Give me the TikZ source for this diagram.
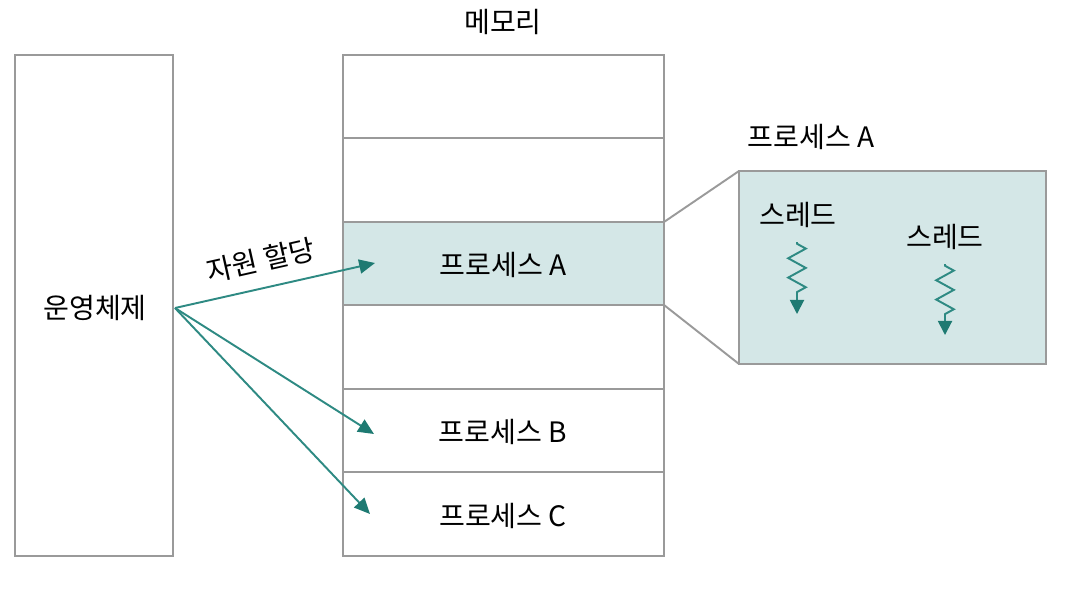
\documentclass[tikz,border=0pt]{standalone}
\usepackage{fontspec}
\setmainfont{Noto Sans CJK KR}
\usetikzlibrary{arrows.meta,decorations.pathmorphing}
\definecolor{edge}{HTML}{9A9A9A}
\definecolor{tealfill}{HTML}{D4E7E7}
\definecolor{tealline}{HTML}{2E8A83}
\definecolor{tealtip}{HTML}{1E7A72}
\tikzset{
  box/.style={draw=edge, line width=1.1pt},
  lbl/.style={font=\fontsize{16}{18}\selectfont, inner sep=0pt},
  alloc/.style={draw=tealline, line width=1.1pt, -{Triangle[length=9pt,width=8pt,color=tealtip]}},
  thread/.style={draw=tealline, line width=1.1pt, -{Triangle[length=8pt,width=8pt,color=tealtip]},
    decorate, decoration={zigzag, amplitude=5pt, segment length=11pt, pre length=1pt, post length=9pt}}
}
\begin{document}
\begin{tikzpicture}[x=0.02cm,y=-0.02cm]
\useasboundingbox (0,0) rectangle (1077,588);
% OS box
\draw[box] (15,55) rectangle (173,556);
\node[lbl] (os) at (95,308) {운영체제};
\coordinate (src) at (175,308);
% memory
\node[lbl] (memtitle) at (503,22) {메모리};
\fill[tealfill] (343,222) rectangle (664,305);
\draw[box] (343,55) rectangle (664,556);
\foreach \yy in {138,222,305,389,472} \draw[box] (343,\yy) -- (664,\yy);
\node[lbl] (pa) at (503,265) {프로세스 A};
\node[lbl] (pb) at (503,432) {프로세스 B};
\node[lbl] (pc) at (503,516) {프로세스 C};
% zoom box
\draw[box, fill=tealfill] (739,171) rectangle (1046,364);
\coordinate (ma1) at (664,222);
\coordinate (ma2) at (664,305);
\coordinate (za1) at (739,171);
\coordinate (za2) at (739,364);
\draw[box] (ma1) -- (za1);
\draw[box] (ma2) -- (za2);
\node[lbl] (zt) at (811,137) {프로세스 A};
\node[lbl] (t1) at (798,215) {스레드};
\node[lbl] (t2) at (945,237) {스레드};
\coordinate (t1s) at (797,242);
\coordinate (t1e) at (797,314);
\coordinate (t2s) at (945,264);
\coordinate (t2e) at (945,335);
\draw[thread] (t1s) -- (t1e);
\draw[thread] (t2s) -- (t2e);
% allocation arrows
\coordinate (ea) at (375,263);
\coordinate (eb) at (374,434);
\coordinate (ec) at (370,514);
\draw[alloc] (src) -- (ea) node[lbl, pos=0.46, above=8pt, sloped] (al) {자원 할당};
\draw[alloc] (src) -- (eb);
\draw[alloc] (src) -- (ec);
\end{tikzpicture}
\end{document}
